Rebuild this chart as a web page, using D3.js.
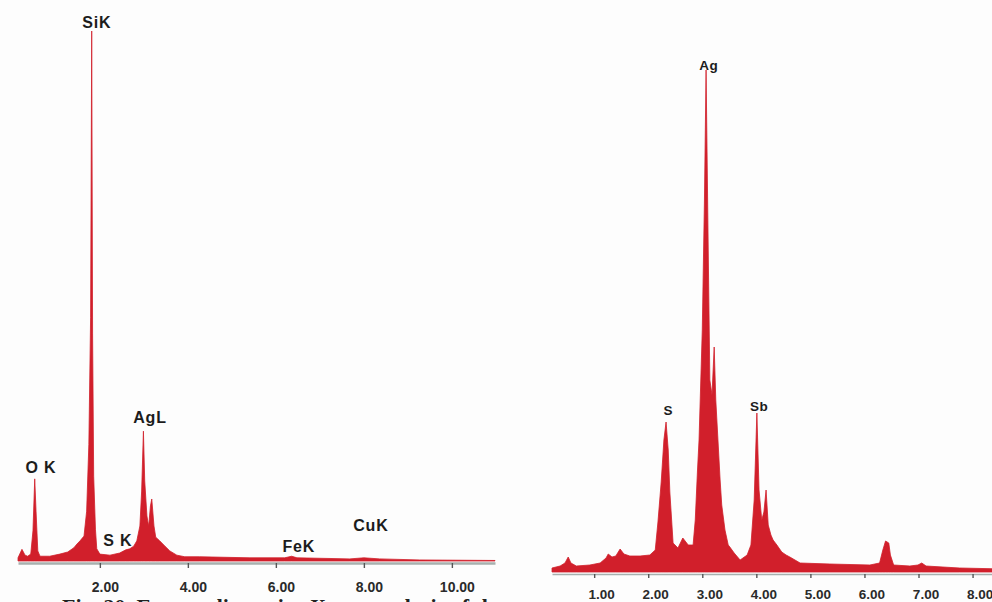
<!DOCTYPE html>
<html>
<head>
<meta charset="utf-8">
<script src="https://cdn.jsdelivr.net/npm/d3@7"></script>
<style>
  html, body { margin: 0; padding: 0; background: #fdfdfd; }
  svg { display: block; }
</style>
</head>
<body>
<svg id="chart" width="992" height="602"></svg>
<script>
// ---- Left spectrum (Si, O, Ag L, S, Fe, Cu) ----
const leftEnergy = [0.14, 0.23, 0.30, 0.36, 0.43, 0.48, 0.52, 0.55, 0.59, 0.64, 0.86, 1.09, 1.27, 1.41, 1.48, 1.55, 1.64, 1.70, 1.75, 1.79, 1.815, 1.835, 1.86, 1.90, 1.93, 2.00, 2.23, 2.45, 2.59, 2.68, 2.77, 2.84, 2.91, 2.95, 2.99, 3.02, 3.07, 3.09, 3.11, 3.15, 3.18, 3.23, 3.27, 3.36, 3.48, 3.59, 3.75, 3.93, 4.27, 5.41, 6.20, 6.36, 6.48, 7.68, 8.00, 8.36, 9.27, 10.98];
const leftCounts = [6, 22, 11, 9, 13, 57, 155, 94, 19, 9, 9, 13, 17, 25, 32, 38, 47, 94, 220, 460, 1000, 430, 160, 60, 23, 13, 11, 15, 21, 23, 28, 38, 66, 132, 245, 151, 85, 75, 66, 104, 117, 66, 45, 38, 28, 19, 11, 8, 8, 6, 6, 9, 6, 4, 6, 4, 2, 1];
const leftTicks = [2, 4, 6, 8, 10];
const leftPeakNames = ["SiK", "O K", "AgL", "S K", "FeK", "CuK"];
const leftPeakEnergy = [1.93, 0.66, 3.14, 2.41, 6.52, 8.16];
const leftPeakLabelCount = [1006, 166, 260, 28, 17, 57];

// ---- Right spectrum (Ag, S, Sb, Fe) ----
const rightEnergy = [0.22, 0.37, 0.46, 0.52, 0.57, 0.67, 0.92, 1.11, 1.22, 1.26, 1.33, 1.40, 1.48, 1.55, 1.66, 1.85, 2.03, 2.13, 2.18, 2.24, 2.29, 2.33, 2.37, 2.40, 2.46, 2.55, 2.64, 2.74, 2.83, 2.87, 2.91, 2.94, 3.00, 3.04, 3.07, 3.11, 3.14, 3.18, 3.22, 3.25, 3.29, 3.33, 3.36, 3.42, 3.48, 3.51, 3.59, 3.70, 3.83, 3.90, 3.96, 4.01, 4.05, 4.10, 4.14, 4.18, 4.22, 4.27, 4.31, 4.38, 4.47, 4.55, 4.62, 4.81, 5.36, 6.10, 6.28, 6.34, 6.39, 6.45, 6.48, 6.54, 6.84, 6.99, 7.06, 7.14, 7.76, 8.60];
const rightCounts = [8, 12, 18, 30, 18, 12, 14, 18, 28, 36, 30, 32, 46, 36, 32, 32, 34, 44, 100, 180, 264, 300, 244, 160, 58, 48, 68, 54, 54, 104, 200, 264, 484, 744, 1004, 644, 384, 354, 450, 344, 264, 184, 134, 84, 54, 50, 38, 24, 34, 54, 144, 318, 164, 104, 120, 164, 94, 74, 64, 54, 40, 34, 30, 18, 16, 14, 18, 44, 62, 58, 34, 14, 12, 14, 18, 12, 8, 6];
const rightTicks = [1, 2, 3, 4, 5, 6, 7, 8];
const rightPeakNames = ["Ag", "S", "Sb"];
const rightPeakEnergy = [3.12, 2.37, 4.05];
const rightPeakLabelCount = [1004, 314, 322];

const captionText = "Fig. 20.  Energy dispersive X-ray analysis of the";

const svg = d3.select("#chart");
const fill = "#d11f2b";
const labelFont = "'Liberation Sans', Arial, sans-serif";

function drawPanel(cfg) {
  const x = d3.scaleLinear().domain(cfg.xDomain).range(cfg.xRange);
  const y = d3.scaleLinear().domain([0, 1000]).range(cfg.yRange);
  const data = cfg.energy.map((e, i) => ({ e, c: cfg.counts[i] }));

  const g = svg.append("g");

  // axis line + ticks
  const axis = d3.axisBottom(x)
    .tickValues(cfg.ticks)
    .tickSizeOuter(0)
    .tickSizeInner(cfg.tickLen)
    .tickFormat(d3.format(".2f"));
  const ax = g.append("g")
    .attr("transform", `translate(0,${cfg.axisY})`)
    .call(axis);
  ax.select(".domain").attr("stroke", "#a7b0ae").attr("stroke-width", cfg.axisWidth);
  ax.selectAll(".tick line").attr("stroke", "#555").attr("stroke-width", 1.4);
  ax.selectAll(".tick text")
    .attr("fill", "#2a2a2a")
    .attr("font-family", labelFont)
    .attr("font-weight", "bold")
    .attr("font-size", cfg.tickFont)
    .attr("dx", cfg.labelDx)
    .attr("y", cfg.labelY - cfg.axisY)
    .attr("dy", 0);

  // spectrum fill
  const area = d3.area()
    .x(d => x(d.e))
    .y0(y(0))
    .y1(d => y(d.c))
    .curve(d3.curveLinear);
  g.append("path")
    .datum(data)
    .attr("d", area)
    .attr("fill", fill)
    .attr("stroke", fill)
    .attr("stroke-width", 0.8)
    .attr("stroke-linejoin", "round");

  // peak labels
  g.selectAll("text.peak")
    .data(cfg.names)
    .join("text")
    .attr("class", "peak")
    .attr("x", (d, i) => x(cfg.peakEnergy[i]))
    .attr("y", (d, i) => y(cfg.peakCount[i]))
    .attr("text-anchor", "middle")
    .attr("font-family", labelFont)
    .attr("font-weight", "bold")
    .attr("font-size", cfg.peakFont)
    .attr("letter-spacing", cfg.peakSpacing)
    .attr("fill", "#1c1c1c")
    .text(d => d);
}

drawPanel({
  energy: leftEnergy, counts: leftCounts, ticks: leftTicks,
  names: leftPeakNames, peakEnergy: leftPeakEnergy, peakCount: leftPeakLabelCount,
  xDomain: [0.14, 10.98], xRange: [18, 495], yRange: [561, 31],
  axisY: 563, axisWidth: 2.5, tickLen: 5, labelY: 592, labelDx: 5,
  tickFont: 14, peakFont: 16, peakSpacing: 0.8
});

drawPanel({
  energy: rightEnergy, counts: rightCounts, ticks: rightTicks,
  names: rightPeakNames, peakEnergy: rightPeakEnergy, peakCount: rightPeakLabelCount,
  xDomain: [0.22, 8.6], xRange: [552, 1005], yRange: [572, 72],
  axisY: 574, axisWidth: 1.5, tickLen: 4, labelY: 599, labelDx: 7,
  tickFont: 13.5, peakFont: 13.5, peakSpacing: 0.5
});

// figure caption along the bottom edge
svg.append("text")
  .attr("x", 62)
  .attr("y", 614)
  .attr("font-family", "'Liberation Serif', 'Times New Roman', serif")
  .attr("font-weight", "bold")
  .attr("font-size", 22)
  .attr("fill", "#222")
  .text(captionText);
</script>
</body>
</html>
